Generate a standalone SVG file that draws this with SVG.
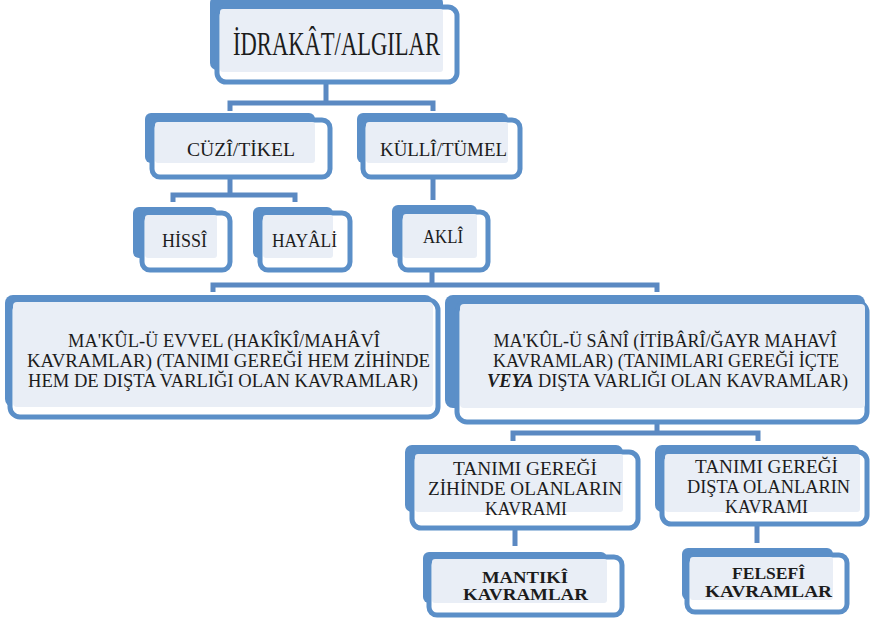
<svg xmlns="http://www.w3.org/2000/svg" width="871" height="621" viewBox="0 0 871 621">
<style>
.back{fill:#5b8fc8}
.front{fill:#ffffff;stroke:#5b8fc8;stroke-width:5}
.inner{fill:#e9eef6}
.conn{fill:none;stroke:#5b89c2;stroke-width:5}
text{font-family:'Liberation Serif','DejaVu Serif',serif;fill:#1c1c1c;text-anchor:middle}
.t18{font-size:18px}
.b16{font-size:16px;font-weight:bold}
</style>
<rect width="871" height="621" fill="#ffffff"/>
<g id="connectors">
<path class="conn" d="M326,82 V103 M230,111 V103 H433 V111"/>
<path class="conn" d="M230,177 V195 M173,202 V195 H295 V202"/>
<path class="conn" d="M433,177 V200"/>
<path class="conn" d="M432,270 V285 M213,292 V285 H657 V292"/>
<path class="conn" d="M657,422 V433 M513,441 V433 H758 V441"/>
<path class="conn" d="M515,528 V546"/>
<path class="conn" d="M757,524 V543"/>
</g>
<g id="n-idrakat">
<rect class="back" x="210" y="-4" width="233" height="74" rx="7"/>
<rect class="front" x="217" y="7" width="240" height="75" rx="9"/>
<rect class="inner" x="220" y="9" width="223" height="63" rx="3"/>
<text x="336.5" y="55" font-size="34" textLength="207" lengthAdjust="spacingAndGlyphs">İDRAKÂT/ALGILAR</text>
</g>
<g id="n-cuzi">
<rect class="back" x="145" y="113" width="170" height="50" rx="6"/>
<rect class="front" x="152" y="120" width="178" height="57" rx="8"/>
<rect class="inner" x="155" y="122" width="160" height="41" rx="3"/>
<text class="t18" x="241" y="156" textLength="108" lengthAdjust="spacingAndGlyphs">CÜZÎ/TİKEL</text>
</g>
<g id="n-kulli">
<rect class="back" x="357" y="113" width="151" height="50" rx="6"/>
<rect class="front" x="363" y="120" width="157" height="57" rx="8"/>
<rect class="inner" x="366" y="122" width="142" height="41" rx="3"/>
<text class="t18" x="443.5" y="156" textLength="127" lengthAdjust="spacingAndGlyphs">KÜLLÎ/TÜMEL</text>
</g>
<g id="n-hissi">
<rect class="back" x="133" y="207" width="84" height="51" rx="6"/>
<rect class="front" x="142" y="213" width="88" height="57" rx="8"/>
<rect class="inner" x="145" y="215" width="72" height="43" rx="3"/>
<text class="t18" x="184.5" y="247" textLength="45" lengthAdjust="spacingAndGlyphs">HİSSÎ</text>
</g>
<g id="n-hayali">
<rect class="back" x="253" y="207" width="80" height="51" rx="6"/>
<rect class="front" x="260" y="213" width="90" height="57" rx="8"/>
<rect class="inner" x="263" y="215" width="70" height="43" rx="3"/>
<text class="t18" x="304.5" y="247" textLength="65" lengthAdjust="spacingAndGlyphs">HAYÂLİ</text>
</g>
<g id="n-akli">
<rect class="back" x="392" y="205" width="85" height="53" rx="6"/>
<rect class="front" x="400" y="212" width="88" height="58" rx="8"/>
<rect class="inner" x="403" y="214" width="74" height="44" rx="3"/>
<text class="t18" x="443" y="243" textLength="40" lengthAdjust="spacingAndGlyphs">AKLÎ</text>
</g>
<g id="n-evvel">
<rect class="back" x="5" y="295" width="428" height="112" rx="8"/>
<rect class="front" x="10" y="300" width="428" height="117" rx="10"/>
<rect class="inner" x="13" y="302" width="420" height="105" rx="4"/>
<text class="t18" x="224" y="347" textLength="312" lengthAdjust="spacingAndGlyphs">MA'KÛL-Ü EVVEL (HAKÎKÎ/MAHÂVÎ</text>
<text class="t18" x="228.5" y="367" textLength="403" lengthAdjust="spacingAndGlyphs">KAVRAMLAR) (TANIMI GEREĞİ HEM ZİHİNDE</text>
<text class="t18" x="223" y="387" textLength="390" lengthAdjust="spacingAndGlyphs">HEM DE DIŞTA VARLIĞI OLAN KAVRAMLAR)</text>
</g>
<g id="n-sani">
<rect class="back" x="445" y="295" width="420" height="113" rx="8"/>
<rect class="front" x="457" y="302" width="410" height="120" rx="10"/>
<rect class="inner" x="460" y="304" width="405" height="104" rx="4"/>
<text class="t18" x="665" y="347" textLength="343" lengthAdjust="spacingAndGlyphs">MA'KÛL-Ü SÂNÎ (İTİBÂRÎ/ĞAYR MAHAVÎ</text>
<text class="t18" x="666" y="367" textLength="346" lengthAdjust="spacingAndGlyphs">KAVRAMLAR) (TANIMLARI GEREĞİ İÇTE</text>
<text class="t18" x="667.5" y="387" textLength="361" lengthAdjust="spacingAndGlyphs"><tspan font-weight="bold" font-style="italic">VEYA</tspan> DIŞTA VARLIĞI OLAN KAVRAMLAR)</text>
</g>
<g id="n-zihinde">
<rect class="back" x="405" y="445" width="218" height="67" rx="7"/>
<rect class="front" x="412" y="452" width="226" height="76" rx="9"/>
<rect class="inner" x="415" y="454" width="208" height="58" rx="3"/>
<text class="t18" x="525" y="475" textLength="144" lengthAdjust="spacingAndGlyphs">TANIMI GEREĞİ</text>
<text class="t18" x="525" y="495" textLength="194" lengthAdjust="spacingAndGlyphs">ZİHİNDE OLANLARIN</text>
<text class="t18" x="526" y="515" textLength="82" lengthAdjust="spacingAndGlyphs">KAVRAMI</text>
</g>
<g id="n-dista">
<rect class="back" x="655" y="445" width="205" height="67" rx="7"/>
<rect class="front" x="662" y="452" width="205" height="72" rx="9"/>
<rect class="inner" x="665" y="454" width="195" height="58" rx="3"/>
<text class="t18" x="766.5" y="473" textLength="143" lengthAdjust="spacingAndGlyphs">TANIMI GEREĞİ</text>
<text class="t18" x="768.5" y="493" textLength="163" lengthAdjust="spacingAndGlyphs">DIŞTA OLANLARIN</text>
<text class="t18" x="766.5" y="513" textLength="83" lengthAdjust="spacingAndGlyphs">KAVRAMI</text>
</g>
<g id="n-mantiki">
<rect class="back" x="423" y="552" width="184" height="51" rx="6"/>
<rect class="front" x="429" y="557" width="193" height="58" rx="8"/>
<rect class="inner" x="432" y="559" width="175" height="44" rx="3"/>
<text class="b16" x="525" y="583" textLength="86" lengthAdjust="spacingAndGlyphs">MANTIKÎ</text>
<text class="b16" x="525.5" y="600" textLength="125" lengthAdjust="spacingAndGlyphs">KAVRAMLAR</text>
</g>
<g id="n-felsefi">
<rect class="back" x="682" y="548" width="151" height="52" rx="6"/>
<rect class="front" x="687" y="555" width="160" height="57" rx="8"/>
<rect class="inner" x="690" y="557" width="143" height="43" rx="3"/>
<text class="b16" x="768.5" y="579" textLength="73" lengthAdjust="spacingAndGlyphs">FELSEFÎ</text>
<text class="b16" x="768.5" y="597" textLength="127" lengthAdjust="spacingAndGlyphs">KAVRAMLAR</text>
</g>
</svg>
